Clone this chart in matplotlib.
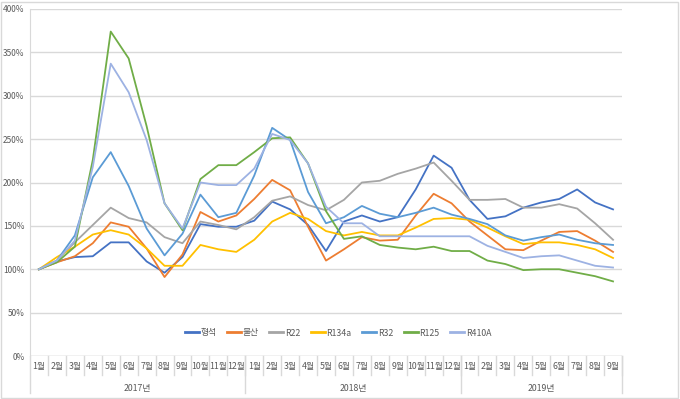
import matplotlib
matplotlib.use("Agg")
import matplotlib.pyplot as plt
import matplotlib.transforms as mtransforms
from matplotlib.patches import Rectangle

plt.rcParams['font.family'] = ['Noto Sans CJK KR', 'DejaVu Sans']

# 월 라벨 (2017.1 ~ 2019.9)
years = ['2017년', '2018년', '2019년']
months_per_year = [12, 12, 9]
month_labels = [f'{m}월' for n in months_per_year for m in range(1, n + 1)]

# 2017년 1월 = 100% 기준 지수
hyungseok = [100, 109, 114, 115, 131, 131, 109, 96, 114, 152, 149, 149,
             156, 178, 169, 151, 121, 155, 162, 155, 160, 192, 231, 217,
             180, 158, 161, 171, 177, 181, 192, 177, 169]
bulsan = [100, 108, 115, 130, 154, 149, 124, 91, 117, 166, 155, 162,
          181, 203, 191, 149, 110, 123, 137, 133, 134, 162, 187, 176,
          155, 139, 123, 122, 133, 143, 144, 133, 120]
r22 = [100, 110, 131, 151, 171, 159, 154, 137, 130, 155, 151, 146,
       160, 179, 184, 174, 168, 180, 200, 202, 210, 216, 223, 202,
       180, 180, 181, 171, 171, 175, 170, 153, 134]
r134a = [100, 114, 126, 140, 145, 140, 124, 104, 104, 128, 123, 120,
         134, 155, 165, 158, 144, 139, 143, 139, 139, 148, 158, 159,
         157, 148, 138, 129, 131, 131, 128, 123, 113]
r32 = [100, 110, 139, 206, 235, 196, 147, 116, 141, 186, 160, 165,
       208, 263, 249, 189, 153, 160, 173, 164, 160, 165, 171, 163,
       158, 152, 139, 133, 137, 140, 134, 130, 128]
r125 = [100, 108, 126, 226, 374, 343, 265, 176, 145, 204, 220, 220,
        235, 251, 252, 222, 167, 135, 138, 128, 125, 123, 126, 121,
        121, 110, 106, 99, 100, 100, 96, 92, 86]
r410a = [100, 110, 133, 218, 337, 304, 249, 176, 147, 200, 197, 197,
         216, 256, 249, 222, 172, 153, 153, 138, 138, 138, 138, 138,
         138, 127, 120, 113, 115, 116, 110, 104, 102]

series = [('형석', hyungseok, '#4472C4'),
          ('불산', bulsan, '#ED7D31'),
          ('R22', r22, '#A5A5A5'),
          ('R134a', r134a, '#FFC000'),
          ('R32', r32, '#5B9BD5'),
          ('R125', r125, '#70AD47'),
          ('R410A', r410a, '#9DB2E3')]

W, H = 680, 399
fig = plt.figure(figsize=(W / 100, H / 100), dpi=100)
fig.patches.append(Rectangle((1 / W, 1 / H), 1 - 3 / W, 1 - 3 / H, transform=fig.transFigure,
                             fill=False, edgecolor='#D9D9D9', linewidth=1))

left, right, top, bottom = 30, 622, 9, 356
ax = fig.add_axes([left / W, 1 - bottom / H, (right - left) / W, (bottom - top) / H])

x = list(range(len(month_labels)))
for name, vals, color in series:
    ax.plot(x, [v / 100 for v in vals], color=color, linewidth=1.3, label=name,
            solid_joinstyle='round')

ax.set_xlim(-0.5, len(month_labels) - 0.5)
ax.set_ylim(0, 4)
ax.set_yticks([i * 0.5 for i in range(9)])
ax.set_yticklabels([f'{i * 50}%' for i in range(9)])
ax.yaxis.grid(True, color='#D9D9D9', linewidth=1)
ax.set_axisbelow(True)
ax.tick_params(axis='y', length=0, labelsize=6, labelcolor='#595959', pad=4)
ax.set_xticks([])
for s in ['top', 'right', 'bottom']:
    ax.spines[s].set_visible(False)
ax.spines['left'].set_color('#D9D9D9')

# 다단 범주 축
px = 1 / (bottom - top)
trans = mtransforms.blended_transform_factory(ax.transData, ax.transAxes)
for i, lab in enumerate(month_labels):
    ax.text(i, -11 * px, lab, transform=trans, ha='center', va='center',
            fontsize=6.3, color='#595959')
    ax.plot([i + 0.5, i + 0.5], [0, -19 * px], transform=trans, color='#D9D9D9',
            linewidth=1, clip_on=False)
start = 0
for yr, n in zip(years, months_per_year):
    ax.text(start + n / 2 - 0.5, -32 * px, yr, transform=trans, ha='center', va='center',
            fontsize=6.3, color='#595959')
    ax.plot([start - 0.5, start - 0.5], [0, -37 * px], transform=trans, color='#D9D9D9',
            linewidth=1, clip_on=False)
    start += n
ax.plot([start - 0.5, start - 0.5], [0, -37 * px], transform=trans, color='#D9D9D9',
        linewidth=1, clip_on=False)
ax.axhline(0, color='#D9D9D9', linewidth=1)

leg = fig.legend(loc='center', bbox_to_anchor=(338 / W, 1 - 333 / H), ncol=7, frameon=False,
                 fontsize=6.3, handlelength=1.6, handletextpad=0.2, columnspacing=1.2,
                 labelcolor='#595959')
for h in leg.legend_handles:
    h.set_linewidth(2)

fig.savefig('out.png', dpi=100)
